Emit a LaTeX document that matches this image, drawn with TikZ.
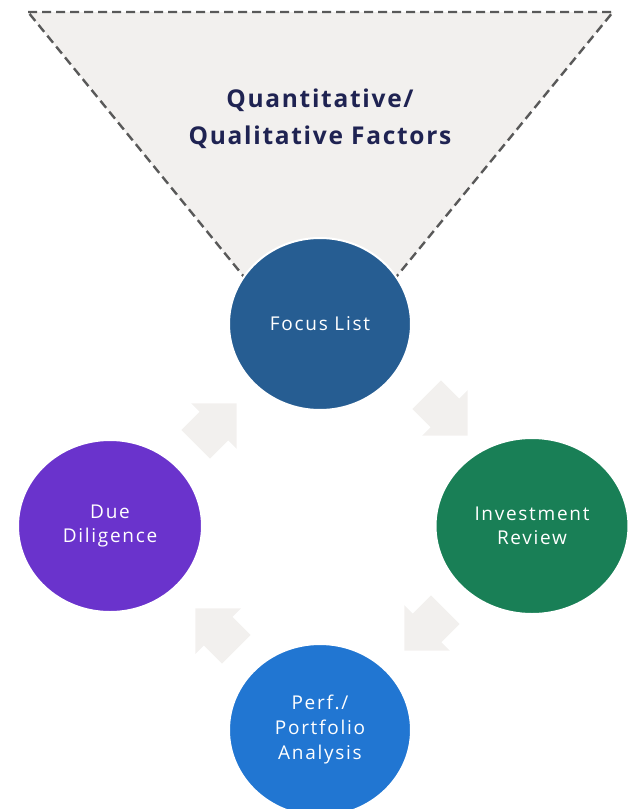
\documentclass[tikz,border=0pt]{standalone}
\usepackage{fontspec}
\setmainfont{Open Sans}
\newfontfamily\stagefont[LetterSpace=9]{Open Sans}
\newfontfamily\headfont[LetterSpace=7]{Open Sans}
\usetikzlibrary{shapes.geometric,shapes.arrows,calc}

\definecolor{funnelgray}{HTML}{F2F0EE}
\definecolor{dashgray}{HTML}{595959}
\definecolor{headnavy}{HTML}{1F2352}
\definecolor{focusblue}{HTML}{265D92}
\definecolor{reviewgreen}{HTML}{197F56}
\definecolor{perfblue}{HTML}{2176D2}
\definecolor{duepurple}{HTML}{6A33CC}

\tikzset{
  stage/.style={ellipse, draw=white, line width=2pt, fill=#1, text=white,
    minimum width=182pt, minimum height=172pt, align=center,
    font=\stagefont\fontsize{19}{24}\selectfont},
  flow/.style={single arrow, fill=funnelgray, draw=none, inner xsep=0pt,
    inner ysep=20pt, minimum height=58pt, single arrow head extend=12pt,
    single arrow tip angle=90, single arrow head indent=0pt, rotate=#1},
}

\begin{document}
\begin{tikzpicture}[x=1pt, y=-1pt]
  \useasboundingbox (0,0) rectangle (630,809);
  % funnel
  \fill[funnelgray] (28,12) -- (613,12) -- (320,370) -- cycle;
  \draw[dashgray, line width=2.4pt, dash pattern=on 9pt off 5pt]
    (28,12) -- (613,12) -- (320,370) -- cycle;
  \node[text=headnavy, align=center,
    font=\headfont\bfseries\fontsize{24.5}{37}\selectfont] (factors) at (320,118.5)
    {Quantitative/\\Qualitative Factors};
  % stages
  \node[stage=focusblue] (focus) at (320,324) {Focus List};
  \node[stage=reviewgreen, minimum width=193pt, minimum height=176pt] (review) at (532,526) {Investment\\Review};
  \node[stage=perfblue, font=\stagefont\fontsize{19}{25}\selectfont] (perf) at (320,730) {Perf./\\Portfolio\\Analysis};
  \node[stage=duepurple, minimum width=184pt] (due) at (110,526) {Due\\Diligence};
  % cycle arrows
  \node[flow=45] (a1) at ($(due)!0.5!(focus)+(-6,6)$) {};
  \node[flow=-45] (a2) at ($(focus)!0.5!(review)+(14,-17)$) {};
  \node[flow=-135] (a3) at ($(review)!0.5!(perf)+(6,-5)$) {};
  \node[flow=135] (a4) at ($(perf)!0.5!(due)+(8,8)$) {};
\end{tikzpicture}
\end{document}
